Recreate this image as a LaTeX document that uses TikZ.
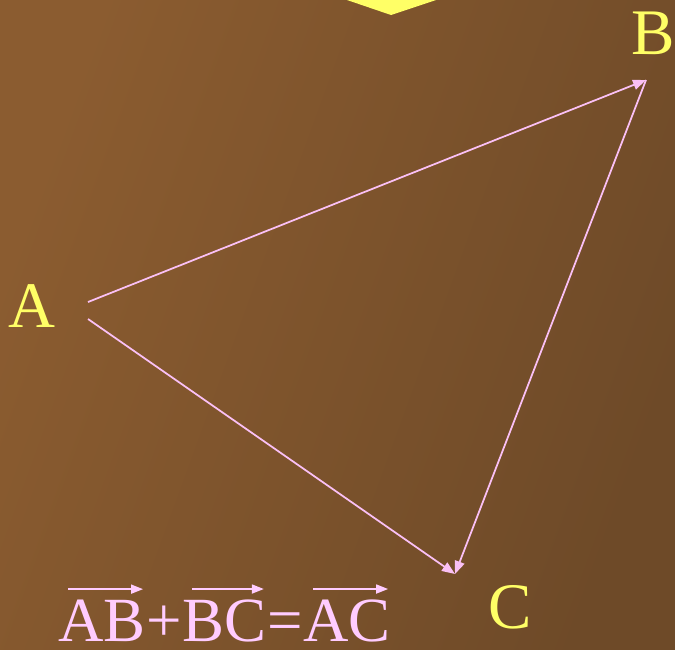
\documentclass[tikz,border=0pt]{standalone}
\usepackage{fontspec}
\setmainfont{Liberation Serif}
\usetikzlibrary{arrows.meta}
\definecolor{bgleft}{RGB}{139,92,48}
\definecolor{bgright}{RGB}{110,74,40}
\definecolor{ptyellow}{RGB}{255,255,102}
\definecolor{vecpink}{RGB}{250,192,245}
\definecolor{txtpink}{RGB}{255,204,255}
\begin{document}
\begin{tikzpicture}[x=0.02cm, y=-0.02cm,
  every node/.style={font=\fontsize{37}{44}\selectfont, inner sep=0pt},
  pt/.style={text=ptyellow},
  part/.style={text=txtpink, anchor=base west, font=\fontsize{35.8}{42}\selectfont},
  vec/.style={draw=vecpink, line width=1pt, -{Triangle[length=2.6mm,width=2mm]}},
  over/.style={draw=txtpink, line width=1pt, -{Triangle[length=2.4mm,width=1.8mm]}}]
  \shade[left color=bgleft, right color=bgright, shading angle=70] (0,0) rectangle (675,649);
  \useasboundingbox (0,0) rectangle (675,649);
  \fill[ptyellow] (347,0) -- (391,15) -- (436,0) -- cycle;

  \node[pt] (A) at (32,306) {A};
  \node[pt] (B) at (653,33) {B};
  \node[pt] (C) at (510,607) {C};

  \coordinate (ab) at (88,302);
  \coordinate (ac) at (88,319);
  \coordinate (tipB) at (646,80);
  \coordinate (tipC) at (455,574);

  \draw[vec] (ab) -- (tipB);
  \draw[vec] (tipB) -- (tipC);
  \draw[vec] (ac) -- (tipC);

  % AB + BC = AC
  \node[part] (vAB) at (58,641) {AB};
  \node[part] (plus) at (vAB.base east) {+};
  \node[part] (vBC) at (plus.base east) {BC};
  \node[part] (eq) at (vBC.base east) {=};
  \node[part] (vAC) at (eq.base east) {AC};
  \foreach \v in {vAB,vBC,vAC}
    \draw[over] ([xshift=10*0.02cm, yshift=10*0.02cm]\v.north west) -- ([xshift=-3*0.02cm, yshift=10*0.02cm]\v.north east);
\end{tikzpicture}
\end{document}
